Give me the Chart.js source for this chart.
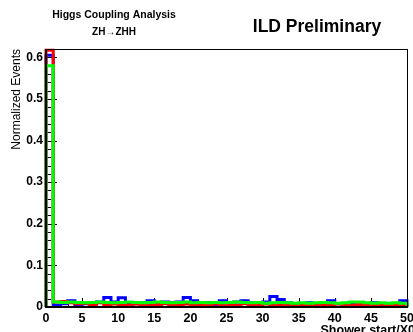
<!DOCTYPE html>
<html>
<head>
<meta charset="utf-8">
<script src="https://cdn.jsdelivr.net/npm/chart.js@4/dist/chart.umd.min.js"></script>
<style>
html,body{margin:0;padding:0;background:#fff;}
canvas{display:block;}
</style>
</head>
<body>
<canvas id="c" width="413" height="332"></canvas>
<script>
// Bin left edges (Shower start / X0), 50 bins of width 1
const binEdges = Array.from({length: 51}, (_, i) => i);
const xTickValues = [0, 5, 10, 15, 20, 25, 30, 35, 40, 45, 50];
const yTickValues = [0, 0.1, 0.2, 0.3, 0.4, 0.5, 0.6];
const yTickLabels = ["0", "0.1", "0.2", "0.3", "0.4", "0.5", "0.6"];

const redValues = [0.617, 0.012, 0.013, 0.010, 0.008, 0.009, 0.006, 0.010, 0.005, 0.007, 0.006,
  0.005, 0.007, 0.006, 0.005, 0.006, 0.008, 0.005, 0.006, 0.007, 0.005,
  0.006, 0.005, 0.007, 0.006, 0.005, 0.004, 0.008, 0.005, 0.006, 0.007,
  0.005, 0.006, 0.004, 0.005, 0.006, 0.005, 0.004, 0.006, 0.005, 0.007,
  0.005, 0.004, 0.006, 0.005, 0.004, 0.006, 0.005, 0.004, 0.005];
const blueValues = [0.605, 0.004, 0.008, 0.015, 0.006, 0.008, 0.010, 0.012, 0.023, 0.012, 0.022,
  0.010, 0.008, 0.010, 0.015, 0.006, 0.012, 0.010, 0.012, 0.023, 0.015,
  0.008, 0.010, 0.006, 0.015, 0.008, 0.012, 0.015, 0.010, 0.008, 0.012,
  0.025, 0.018, 0.010, 0.006, 0.008, 0.010, 0.006, 0.010, 0.015, 0.008,
  0.006, 0.010, 0.008, 0.006, 0.010, 0.008, 0.006, 0.008, 0.015];
const greenValues = [0.580, 0.012, 0.011, 0.012, 0.011, 0.010, 0.011, 0.012, 0.011, 0.010, 0.011,
  0.012, 0.011, 0.010, 0.011, 0.012, 0.011, 0.010, 0.011, 0.012, 0.010,
  0.011, 0.010, 0.011, 0.010, 0.011, 0.012, 0.011, 0.010, 0.011, 0.009,
  0.010, 0.011, 0.010, 0.009, 0.010, 0.009, 0.010, 0.011, 0.010, 0.009,
  0.010, 0.012, 0.012, 0.010, 0.009, 0.010, 0.009, 0.010, 0.009];

function histPoints(vals) {
  const pts = [{x: binEdges[0], y: 0}];
  vals.forEach((v, i) => pts.push({x: binEdges[i], y: v}));
  pts.push({x: binEdges[vals.length], y: vals[vals.length - 1]});
  pts.push({x: binEdges[vals.length], y: 0});
  return pts;
}

const FONT = '"Liberation Sans", Arial, Helvetica, sans-serif';

const rootPlugin = {
  id: 'rootStyle',
  beforeDatasetsDraw(chart) {
    const ctx = chart.ctx, a = chart.chartArea;
    const xs = chart.scales.x, ys = chart.scales.y;
    ctx.save();
    ctx.strokeStyle = '#000';
    ctx.lineWidth = 1;
    ctx.beginPath();
    for (let v = 0; v <= 0.6201; v += 0.02) {
      const y = Math.round(ys.getPixelForValue(v)) + 0.5;
      const major = Math.abs(v * 10 - Math.round(v * 10)) < 1e-6;
      ctx.moveTo(a.left, y);
      ctx.lineTo(a.left + (major ? 11 : 5), y);
    }
    for (let v = 0; v <= 50; v += 1) {
      const x = Math.round(xs.getPixelForValue(v)) + 0.5;
      const major = v % 5 === 0;
      ctx.moveTo(x, a.bottom);
      ctx.lineTo(x, a.bottom - (major ? 9 : 5));
    }
    ctx.stroke();
    ctx.restore();
  },
  afterDatasetsDraw(chart) {
    const ctx = chart.ctx, a = chart.chartArea;
    ctx.save();
    ctx.strokeStyle = '#000';
    ctx.lineWidth = 1;
    ctx.strokeRect(Math.round(a.left) + 0.5, Math.round(a.top) + 0.5,
      Math.round(a.right - a.left), Math.round(a.bottom - a.top));
    ctx.lineWidth = 2;
    ctx.beginPath();
    ctx.moveTo(a.left, a.top);
    ctx.lineTo(a.left, a.bottom);
    ctx.lineTo(a.right, a.bottom);
    ctx.stroke();
    // texts
    ctx.fillStyle = '#000';
    ctx.textAlign = 'center';
    ctx.textBaseline = 'alphabetic';
    ctx.font = 'bold 10.5px ' + FONT;
    ctx.fillText('Higgs Coupling Analysis', 114, 18);
    ctx.font = 'bold 10px ' + FONT;
    ctx.fillText('ZH\u2192ZHH', 114, 35);
    ctx.font = 'bold 17.5px ' + FONT;
    ctx.fillText('ILD Preliminary', 317, 32);
    ctx.textAlign = 'right';
    ctx.font = 'bold 12.5px ' + FONT;
    ctx.fillText('Shower start/X0', 415, 334);
    ctx.save();
    ctx.translate(20, a.top);
    ctx.rotate(-Math.PI / 2);
    ctx.font = '12px ' + FONT;
    ctx.textAlign = 'right';
    ctx.fillText('Normalized Events', 0, 0);
    ctx.restore();
    ctx.restore();
  }
};

const common = {pointRadius: 0, borderWidth: 3, stepped: 'before', fill: false, tension: 0,
  borderJoinStyle: 'miter', clip: 4};

new Chart(document.getElementById('c'), {
  type: 'line',
  data: {
    datasets: [
      Object.assign({label: 'green', data: histPoints(greenValues), borderColor: '#00ff00'}, common),
      Object.assign({label: 'red', data: histPoints(redValues), borderColor: '#ff0000'}, common),
      Object.assign({label: 'blue', data: histPoints(blueValues), borderColor: '#0000ff'}, common)
    ]
  },
  options: {
    responsive: false,
    animation: false,
    devicePixelRatio: 1,
    layout: {padding: {left: 0, top: 49, right: 6, bottom: 0}},
    plugins: {legend: {display: false}, tooltip: {enabled: false}},
    scales: {
      x: {
        type: 'linear', min: 0, max: 50,
        grid: {display: false, drawTicks: false},
        border: {display: false},
        afterBuildTicks(s) { s.ticks = xTickValues.map(v => ({value: v})); },
        ticks: {color: '#000', padding: 4, maxRotation: 0, autoSkip: false,
          font: {family: FONT, size: 12.5, weight: 'bold'},
          callback: v => String(v)},
        afterFit(s) { s.height = 25; s.paddingLeft = 0; s.paddingRight = 0; }
      },
      y: {
        min: 0, max: 0.62,
        grid: {display: false, drawTicks: false},
        border: {display: false},
        afterBuildTicks(s) { s.ticks = yTickValues.map(v => ({value: v})); },
        ticks: {color: '#000', padding: 3, autoSkip: false,
          font: {family: FONT, size: 12, weight: 'bold'},
          callback: (v) => { const i = yTickValues.findIndex(t => Math.abs(t - v) < 1e-9); return i >= 0 ? yTickLabels[i] : ''; }},
        afterFit(s) { s.width = 46; s.paddingTop = 0; s.paddingBottom = 0; }
      }
    }
  },
  plugins: [rootPlugin]
});
</script>
</body>
</html>
